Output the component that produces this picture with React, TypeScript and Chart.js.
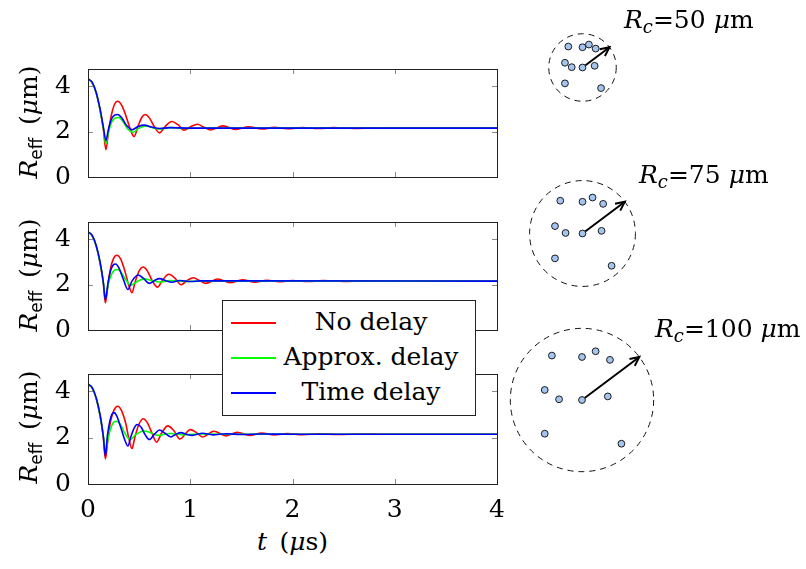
import React, { useEffect, useRef } from "react";
import { Chart, registerables } from "chart.js";
Chart.register(...registerables);

type Pt = [number, number];

// ---------- data ----------
const tTicks = [0, 1, 2, 3, 4];
const rTicks = [0, 2, 4];
const tMax = 4;
const rMax = 4.75;
const seriesLabels = ["No delay", "Approx. delay", "Time delay"];
const seriesColors = ["#ff0000", "#00ff00", "#0000ff"];
const clusterRadii = [50, 75, 100]; // R_c in μm

// emitter positions, as fractions of R_c (x right, y up)
const dotX = [-0.42, 0, 0.19, 0.39, -0.52, -0.32, 0, 0.36, -0.52, 0.55];
const dotY = [0.62, 0.6, 0.68, 0.56, 0.14, 0.01, 0, 0.05, -0.47, -0.61];
const arrowTip: Pt = [0.8, 0.6];

// R_c = 50 μm
const noDelay50: Pt[] = [[0,4.3],[0.04,4.15],[0.08,3.7],[0.12,2.9],[0.15,2.1],[0.175,1.2],[0.2,2.0],[0.23,2.75],[0.26,3.2],[0.29,3.33],[0.33,3.15],[0.37,2.7],[0.41,2.15],[0.45,1.78],[0.49,2.25],[0.53,2.65],[0.56,2.75],[0.6,2.6],[0.65,2.2],[0.7,1.94],[0.75,2.2],[0.82,2.44],[0.88,2.3],[0.94,2.06],[1.0,2.2],[1.07,2.32],[1.13,2.2],[1.2,2.07],[1.32,2.25],[1.45,2.09],[1.57,2.21],[1.7,2.11],[1.82,2.19],[1.95,2.12],[2.1,2.18],[2.25,2.13],[2.4,2.17],[2.6,2.14],[2.8,2.16],[3.0,2.15],[4,2.15]];
const approx50: Pt[] = [[0,4.3],[0.04,4.15],[0.08,3.7],[0.12,2.9],[0.15,2.15],[0.175,1.45],[0.2,1.95],[0.23,2.4],[0.26,2.58],[0.3,2.62],[0.34,2.45],[0.39,2.1],[0.44,1.97],[0.5,2.15],[0.56,2.25],[0.63,2.17],[0.7,2.11],[0.8,2.17],[0.95,2.14],[1.2,2.15],[4,2.15]];
const timeDelay50: Pt[] = [[0,4.32],[0.04,4.17],[0.08,3.72],[0.12,2.95],[0.15,2.2],[0.175,1.6],[0.2,2.1],[0.23,2.55],[0.26,2.72],[0.29,2.75],[0.33,2.6],[0.38,2.25],[0.43,2.08],[0.49,2.22],[0.55,2.28],[0.62,2.2],[0.7,2.13],[0.8,2.17],[1.0,2.15],[4,2.15]];

// R_c = 75 μm
const noDelay75: Pt[] = [[0,4.3],[0.04,4.15],[0.08,3.7],[0.12,2.9],[0.15,2.05],[0.17,1.19],[0.195,2.0],[0.22,2.7],[0.25,3.15],[0.28,3.29],[0.32,3.12],[0.36,2.6],[0.4,1.95],[0.43,1.64],[0.46,2.1],[0.5,2.6],[0.54,2.77],[0.58,2.6],[0.63,2.15],[0.68,1.88],[0.73,2.2],[0.79,2.45],[0.85,2.28],[0.91,1.99],[0.97,2.18],[1.03,2.3],[1.09,2.18],[1.15,2.05],[1.27,2.24],[1.39,2.08],[1.51,2.21],[1.63,2.1],[1.75,2.19],[1.87,2.12],[2.0,2.18],[2.15,2.13],[2.3,2.17],[2.5,2.14],[2.7,2.16],[3.0,2.15],[4,2.15]];
const approx75: Pt[] = [[0,4.3],[0.04,4.15],[0.08,3.7],[0.12,2.9],[0.15,2.1],[0.17,1.4],[0.2,2.05],[0.23,2.45],[0.26,2.63],[0.29,2.66],[0.33,2.5],[0.37,2.2],[0.42,1.97],[0.48,2.13],[0.55,2.25],[0.62,2.18],[0.7,2.11],[0.8,2.17],[0.95,2.14],[1.2,2.15],[4,2.15]];
const timeDelay75: Pt[] = [[0,4.32],[0.04,4.17],[0.08,3.72],[0.12,2.95],[0.15,2.1],[0.17,1.33],[0.195,2.05],[0.22,2.6],[0.245,2.85],[0.27,2.9],[0.3,2.75],[0.34,2.3],[0.39,1.78],[0.43,2.15],[0.49,2.42],[0.54,2.28],[0.6,2.05],[0.65,2.18],[0.7,2.26],[0.76,2.17],[0.82,2.1],[0.9,2.18],[1.0,2.13],[1.1,2.16],[4,2.15]];

// R_c = 100 μm
const noDelay100: Pt[] = [[0,4.3],[0.04,4.15],[0.08,3.7],[0.12,2.9],[0.15,2.0],[0.17,1.08],[0.195,1.95],[0.22,2.7],[0.255,3.2],[0.29,3.36],[0.33,3.15],[0.37,2.6],[0.4,1.95],[0.43,1.53],[0.46,2.05],[0.5,2.6],[0.54,2.82],[0.58,2.65],[0.63,2.15],[0.67,1.81],[0.72,2.2],[0.78,2.51],[0.84,2.3],[0.9,1.94],[0.95,2.15],[1.0,2.35],[1.06,2.22],[1.12,2.03],[1.23,2.28],[1.35,2.08],[1.46,2.23],[1.58,2.1],[1.7,2.2],[1.82,2.12],[1.95,2.18],[2.1,2.13],[2.25,2.17],[2.45,2.14],[2.65,2.16],[2.9,2.15],[4,2.15]];
const approx100: Pt[] = [[0,4.3],[0.04,4.15],[0.08,3.7],[0.12,2.9],[0.15,2.1],[0.17,1.36],[0.2,2.05],[0.23,2.5],[0.255,2.68],[0.28,2.71],[0.32,2.55],[0.36,2.2],[0.41,1.92],[0.47,2.15],[0.55,2.29],[0.62,2.2],[0.68,2.1],[0.8,2.18],[0.95,2.13],[1.1,2.16],[1.3,2.15],[4,2.15]];
const timeDelay100: Pt[] = [[0,4.32],[0.04,4.17],[0.08,3.72],[0.12,2.95],[0.15,2.05],[0.17,1.22],[0.19,2.1],[0.215,2.75],[0.235,3.02],[0.255,3.08],[0.28,2.95],[0.32,2.45],[0.36,1.9],[0.39,1.64],[0.42,2.05],[0.45,2.4],[0.48,2.57],[0.52,2.45],[0.56,2.12],[0.6,1.92],[0.65,2.15],[0.7,2.33],[0.75,2.2],[0.81,2.03],[0.86,2.15],[0.91,2.22],[0.96,2.15],[1.02,2.1],[1.12,2.19],[1.22,2.12],[1.35,2.17],[1.5,2.14],[1.7,2.16],[2.0,2.15],[4,2.15]];

const panelSeries: Pt[][][] = [
  [noDelay50, approx50, timeDelay50],
  [noDelay75, approx75, timeDelay75],
  [noDelay100, approx100, timeDelay100],
];

// ---------- layout ----------
const FONT = "'DejaVu Serif', serif";
const PLOT_LEFT = 88;
const PLOT_RIGHT = 497;
const PLOT_H = 114;
const panelTops = [65, 218, 370];
const CANVAS_LEFT = 40;
const Y_AXIS_W = PLOT_LEFT - CANVAS_LEFT;
const PAD_TOP = 20;
const PAD_RIGHT = 16;
const circleCenters: Pt[] = [[582, 67], [582, 233], [582, 400]];
const PX_PER_UM = 0.76;
const labelPos: Pt[] = [[624, 7], [639, 162], [655, 316]];

const framePlugin = {
  id: "pgfFrame",
  afterDatasetsDraw(chart: any) {
    const { ctx, chartArea: a, scales } = chart;
    const L = 5;
    ctx.save();
    ctx.lineWidth = 1;
    ctx.strokeStyle = "#8a8a8a";
    ctx.beginPath();
    for (const v of tTicks) {
      const x = Math.round(scales.x.getPixelForValue(v)) + 0.5;
      ctx.moveTo(x, a.top); ctx.lineTo(x, a.top + L);
      ctx.moveTo(x, a.bottom); ctx.lineTo(x, a.bottom - L);
    }
    for (const v of rTicks) {
      const y = Math.round(scales.y.getPixelForValue(v)) + 0.5;
      ctx.moveTo(a.left, y); ctx.lineTo(a.left + L, y);
      ctx.moveTo(a.right, y); ctx.lineTo(a.right - L, y);
    }
    ctx.stroke();
    ctx.strokeStyle = "#222";
    ctx.strokeRect(Math.round(a.left) + 0.5, Math.round(a.top) + 0.5, Math.round(a.right - a.left), Math.round(a.bottom - a.top));
    ctx.restore();
  },
};

const clusterPlugin = {
  id: "clusterDeco",
  beforeDatasetsDraw(chart: any) {
    const { ctx, scales } = chart;
    const cx = scales.x.getPixelForValue(0);
    const cy = scales.y.getPixelForValue(0);
    const r = scales.x.getPixelForValue(1) - cx;
    ctx.save();
    ctx.strokeStyle = "#111";
    ctx.lineWidth = 1;
    ctx.setLineDash([6, 5]);
    ctx.beginPath();
    ctx.arc(cx, cy, r, 0, Math.PI * 2);
    ctx.stroke();
    ctx.setLineDash([]);
    const tx = scales.x.getPixelForValue(arrowTip[0]);
    const ty = scales.y.getPixelForValue(arrowTip[1]);
    ctx.lineWidth = 2;
    ctx.strokeStyle = "#000";
    ctx.beginPath();
    ctx.moveTo(cx, cy);
    ctx.lineTo(tx, ty);
    ctx.stroke();
    const ang = Math.atan2(ty - cy, tx - cx);
    const h = 10;
    ctx.beginPath();
    ctx.moveTo(tx - h * Math.cos(ang - 0.45), ty - h * Math.sin(ang - 0.45));
    ctx.lineTo(tx, ty);
    ctx.lineTo(tx - h * Math.cos(ang + 0.45), ty - h * Math.sin(ang + 0.45));
    ctx.stroke();
    ctx.restore();
  },
};

function LinePanel({ index }: { index: number }) {
  const ref = useRef<HTMLCanvasElement>(null);
  const showX = index === 2;
  const xAxisH = showX ? 36 : 2;
  const padBottom = showX ? 0 : 20;
  const width = PLOT_RIGHT + PAD_RIGHT - CANVAS_LEFT;
  const height = PAD_TOP + PLOT_H + xAxisH + padBottom;
  useEffect(() => {
    const chart = new Chart(ref.current!, {
      type: "line",
      data: {
        datasets: panelSeries[index].map((pts, i) => ({
          label: seriesLabels[i],
          data: pts.map(([x, y]) => ({ x, y })),
          borderColor: seriesColors[i],
          borderWidth: 1.6,
          pointRadius: 0,
          fill: false,
          order: seriesLabels.length - 1 - i,
          cubicInterpolationMode: "monotone" as const,
        })),
      },
      options: {
        animation: false,
        responsive: false,
        events: [],
        layout: { padding: { top: PAD_TOP, right: PAD_RIGHT, left: 0, bottom: padBottom } },
        plugins: { legend: { display: false }, tooltip: { enabled: false } },
        scales: {
          x: {
            type: "linear",
            min: 0,
            max: tMax,
            grid: { display: false },
            border: { display: false },
            afterBuildTicks: (s: any) => { s.ticks = tTicks.map((v) => ({ value: v })); },
            afterFit: (s: any) => { s.height = xAxisH; },
            ticks: { display: showX, padding: 3, color: "#000", font: { family: FONT, size: 25 }, maxRotation: 0 },
          },
          y: {
            type: "linear",
            min: 0,
            max: rMax,
            grid: { display: false },
            border: { display: false },
            afterBuildTicks: (s: any) => { s.ticks = rTicks.map((v) => ({ value: v })); },
            afterFit: (s: any) => { s.width = Y_AXIS_W; },
            ticks: { padding: 9, color: "#000", font: { family: FONT, size: 25 } },
          },
        },
      },
      plugins: [framePlugin],
    });
    return () => chart.destroy();
  }, []);
  return (
    <canvas
      ref={ref}
      width={width}
      height={height}
      style={{ position: "absolute", left: CANVAS_LEFT, top: panelTops[index] - PAD_TOP, width, height }}
    />
  );
}

function ClusterDiagram({ index }: { index: number }) {
  const ref = useRef<HTMLCanvasElement>(null);
  const r = clusterRadii[index] * PX_PER_UM;
  const ext = 1.2;
  const size = Math.round(2 * ext * r);
  const [cx, cy] = circleCenters[index];
  useEffect(() => {
    const chart = new Chart(ref.current!, {
      type: "scatter",
      data: {
        datasets: [
          {
            data: dotX.map((x, i) => ({ x, y: dotY[i] })),
            pointRadius: 3.4,
            pointBackgroundColor: "#a4c5f0",
            pointBorderColor: "#1b1b1b",
            pointBorderWidth: 1,
            clip: false as any,
          },
        ],
      },
      options: {
        animation: false,
        responsive: false,
        events: [],
        layout: { padding: 0 },
        plugins: { legend: { display: false }, tooltip: { enabled: false } },
        scales: {
          x: { type: "linear", min: -ext, max: ext, display: false },
          y: { type: "linear", min: -ext, max: ext, display: false },
        },
      },
      plugins: [clusterPlugin],
    });
    return () => chart.destroy();
  }, []);
  return (
    <canvas
      ref={ref}
      width={size}
      height={size}
      style={{ position: "absolute", left: cx - size / 2, top: cy - size / 2, width: size, height: size }}
    />
  );
}

const txt: React.CSSProperties = { fontFamily: FONT, fontSize: 25, lineHeight: "25px", color: "#000", whiteSpace: "nowrap" };

function YTitle({ index }: { index: number }) {
  const cy = panelTops[index] + PLOT_H / 2;
  return (
    <div
      style={{
        ...txt,
        position: "absolute",
        left: 30,
        top: cy,
        transform: "translate(-50%, -50%) rotate(-90deg)",
      }}
    >
      <i>R</i>
      <span style={{ fontFamily: "'DejaVu Sans', sans-serif", fontSize: 17, position: "relative", top: 5 }}>eff</span>
      {"\u2002("}
      <i>μ</i>
      {"m)"}
    </div>
  );
}

export default function App() {
  return (
    <div style={{ position: "absolute", left: 0, top: 0, width: 806, height: 569, background: "#fff", overflow: "hidden" }}>
      {[0, 1, 2].map((i) => (
        <LinePanel key={"p" + i} index={i} />
      ))}
      {[0, 1, 2].map((i) => (
        <ClusterDiagram key={"c" + i} index={i} />
      ))}
      {[0, 1, 2].map((i) => (
        <YTitle key={"y" + i} index={i} />
      ))}
      <div style={{ ...txt, position: "absolute", left: (PLOT_LEFT + PLOT_RIGHT) / 2, top: 529, transform: "translateX(-50%)" }}>
        <i>t</i>
        {"\u2002("}
        <i>μ</i>
        {"s)"}
      </div>
      {[0, 1, 2].map((i) => (
        <div key={"l" + i} style={{ ...txt, position: "absolute", left: labelPos[i][0], top: labelPos[i][1] }}>
          <i>R</i>
          <i style={{ fontSize: 18, position: "relative", top: 5 }}>c</i>
          {"=" + clusterRadii[i] + " "}
          <i>μ</i>
          {"m"}
        </div>
      ))}
      <div
        style={{
          position: "absolute",
          left: 222,
          top: 300,
          width: 252,
          height: 114,
          border: "1px solid #222",
          background: "#fff",
        }}
      >
        {seriesLabels.map((lab, i) => (
          <React.Fragment key={lab}>
            <div style={{ position: "absolute", left: 8, top: 21 + i * 35, width: 45, height: 1.5, background: seriesColors[i] }} />
            <div style={{ ...txt, position: "absolute", left: 50, width: 196, textAlign: "center", top: 8 + i * 35 }}>{lab}</div>
          </React.Fragment>
        ))}
      </div>
    </div>
  );
}
